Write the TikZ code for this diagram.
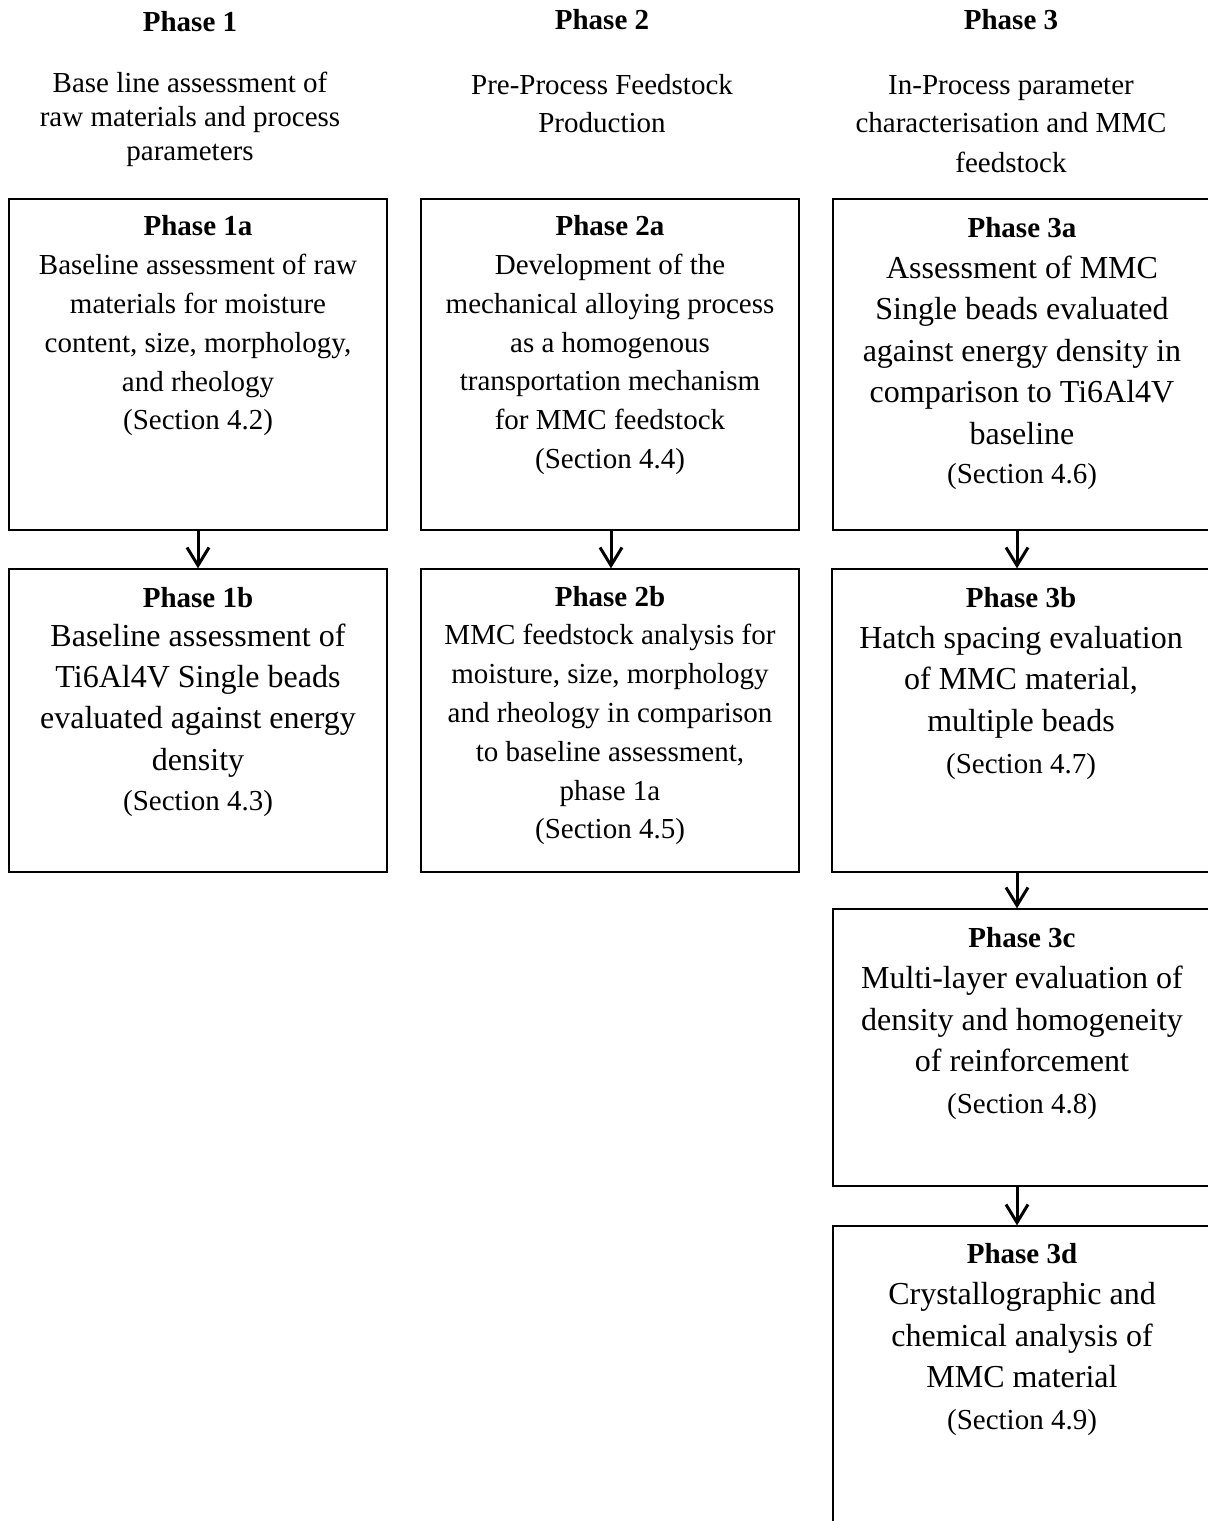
\documentclass[tikz,border=0pt]{standalone}
\usepackage{fontspec}
\setmainfont{Liberation Serif}
\usetikzlibrary{arrows.meta}
\begin{document}
\begin{tikzpicture}[x=0.5pt,y=-0.5pt,
  box/.style={draw=black,line width=0.65pt,minimum width=189pt,inner sep=0pt},
  hd/.style={anchor=base,inner sep=0pt,font=\fontsize{14.5pt}{17pt}\selectfont\bfseries},
  sm/.style={anchor=base,inner sep=0pt,font=\fontsize{14.5pt}{17pt}\selectfont},
  lg/.style={anchor=base,inner sep=0pt,font=\fontsize{16pt}{19pt}\selectfont},
  arr/.style={line width=1.5pt,-{Straight Barb[length=9pt,width=11pt]}}]
\useasboundingbox (0,0) rectangle (1208,1521);
\clip (0,0) rectangle (1208,1521);
% boxes
\node[box,minimum height=165.5pt] (b1a) at (198,364.5) {};
\node[box,minimum height=165.5pt] (b2a) at (610,364.5) {};
\node[box,minimum height=165.5pt] (b3a) at (1022,364.5) {};
\node[box,minimum height=151.5pt] (b1b) at (198,720.5) {};
\node[box,minimum height=151.5pt] (b2b) at (610,720.5) {};
\node[box,minimum height=151.5pt] (b3b) at (1021,720.5) {};
\node[box,minimum height=138.5pt] (b3c) at (1022,1047.5) {};
\node[box,minimum height=157pt] (b3d) at (1022,1383) {};
% arrows
\coordinate (ax1) at (198,0);
\coordinate (ax2) at (611,0);
\coordinate (ax3) at (1017,0);
\draw[arr] (b1a.south -| ax1) -- (b1b.north -| ax1);
\draw[arr] (b2a.south -| ax2) -- (b2b.north -| ax2);
\draw[arr] (b3a.south -| ax3) -- (b3b.north -| ax3);
\draw[arr] (b3b.south -| ax3) -- (b3c.north -| ax3);
\draw[arr] (b3c.south -| ax3) -- (b3d.north -| ax3);
% headers
\node[hd] (h1) at (190,31) {Phase 1};
\node[sm] (h1l1) at (190,92) {Base line assessment of};
\node[sm] (h1l2) at (190,126) {raw materials and process};
\node[sm] (h1l3) at (190,160) {parameters};
\node[hd] (h2) at (602,29) {Phase 2};
\node[sm] (h2l1) at (602,94) {Pre-Process Feedstock};
\node[sm] (h2l2) at (602,132) {Production};
\node[hd] (h3) at (1011,29) {Phase 3};
\node[sm] (h3l1) at (1011,94) {In-Process parameter};
\node[sm] (h3l2) at (1011,132) {characterisation and MMC};
\node[sm] (h3l3) at (1011,172) {feedstock};
% 1a
\node[hd] (t1a0) at (198,235) {Phase 1a};
\node[sm] (t1a1) at (198,274) {Baseline assessment of raw};
\node[sm] (t1a2) at (198,313) {materials for moisture};
\node[sm] (t1a3) at (198,352) {content, size, morphology,};
\node[sm] (t1a4) at (198,391) {and rheology};
\node[sm] (t1a5) at (198,429) {(Section 4.2)};
% 2a
\node[hd] (t2a0) at (610,235) {Phase 2a};
\node[sm] (t2a1) at (610,274) {Development of the};
\node[sm] (t2a2) at (610,313) {mechanical alloying process};
\node[sm] (t2a3) at (610,352) {as a homogenous};
\node[sm] (t2a4) at (610,390) {transportation mechanism};
\node[sm] (t2a5) at (610,429) {for MMC feedstock};
\node[sm] (t2a6) at (610,468) {(Section 4.4)};
% 3a
\node[hd] (t3a0) at (1022,237) {Phase 3a};
\node[lg] (t3a1) at (1022,278) {Assessment of MMC};
\node[lg] (t3a2) at (1022,319) {Single beads evaluated};
\node[lg] (t3a3) at (1022,361) {against energy density in};
\node[lg] (t3a4) at (1022,402) {comparison to Ti6Al4V};
\node[lg] (t3a5) at (1022,444) {baseline};
\node[sm] (t3a6) at (1022,483) {(Section 4.6)};
% 1b
\node[hd] (t1b0) at (198,607) {Phase 1b};
\node[lg] (t1b1) at (198,646) {Baseline assessment of};
\node[lg] (t1b2) at (198,687) {Ti6Al4V Single beads};
\node[lg] (t1b3) at (198,728) {evaluated against energy};
\node[lg] (t1b4) at (198,770) {density};
\node[sm] (t1b5) at (198,810) {(Section 4.3)};
% 2b
\node[hd] (t2b0) at (610,606) {Phase 2b};
\node[sm] (t2b1) at (610,644) {MMC feedstock analysis for};
\node[sm] (t2b2) at (610,683) {moisture, size, morphology};
\node[sm] (t2b3) at (610,722) {and rheology in comparison};
\node[sm] (t2b4) at (610,761) {to baseline assessment,};
\node[sm] (t2b5) at (610,800) {phase 1a};
\node[sm] (t2b6) at (610,838) {(Section 4.5)};
% 3b
\node[hd] (t3b0) at (1021,607) {Phase 3b};
\node[lg] (t3b1) at (1021,648) {Hatch spacing evaluation};
\node[lg] (t3b2) at (1021,689) {of MMC material,};
\node[lg] (t3b3) at (1021,731) {multiple beads};
\node[sm] (t3b4) at (1021,773) {(Section 4.7)};
% 3c
\node[hd] (t3c0) at (1022,947) {Phase 3c};
\node[lg] (t3c1) at (1022,988) {Multi-layer evaluation of};
\node[lg] (t3c2) at (1022,1030) {density and homogeneity};
\node[lg] (t3c3) at (1022,1071) {of reinforcement};
\node[sm] (t3c4) at (1022,1113) {(Section 4.8)};
% 3d
\node[hd] (t3d0) at (1022,1263) {Phase 3d};
\node[lg] (t3d1) at (1022,1304) {Crystallographic and};
\node[lg] (t3d2) at (1022,1346) {chemical analysis of};
\node[lg] (t3d3) at (1022,1387) {MMC material};
\node[sm] (t3d4) at (1022,1429) {(Section 4.9)};
\end{tikzpicture}
\end{document}
